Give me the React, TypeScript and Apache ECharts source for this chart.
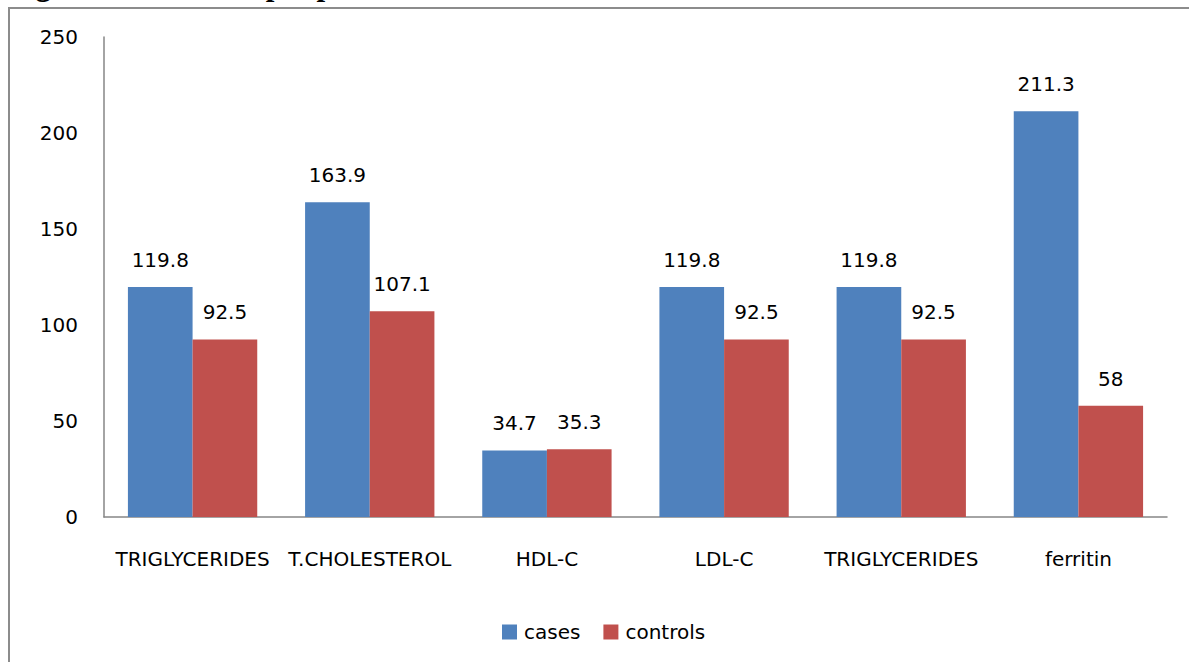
import React, { useEffect, useRef } from "react";
import * as echarts from "echarts";

const categories = ["TRIGLYCERIDES", "T.CHOLESTEROL", "HDL-C", "LDL-C", "TRIGLYCERIDES", "ferritin"];
const casesValues = [119.8, 163.9, 34.7, 119.8, 119.8, 211.3];
const controlsValues = [92.5, 107.1, 35.3, 92.5, 92.5, 58];
const yTicks = [0, 50, 100, 150, 200, 250];
const titleText = "Figure 3: ferritin, lipid profile cases and controls";

export default function App() {
  const ref = useRef<HTMLDivElement>(null);
  useEffect(() => {
    if (!ref.current) return;
    const chart = echarts.init(ref.current, null, { renderer: "svg" });
    const font = "DejaVu Sans";
    chart.setOption({
      animation: false,
      backgroundColor: "#ffffff",
      textStyle: { fontFamily: font },
      graphic: [
        {
          type: "rect",
          shape: { x: 9, y: 8, width: 1300, height: 800 },
          style: { fill: "none", stroke: "#8c8c8c", lineWidth: 2 },
          silent: true,
        },
        {
          type: "text",
          x: 8,
          y: -16,
          style: {
            text: titleText,
            font: "bold 31px 'Liberation Serif', serif",
            fill: "#000",
            verticalAlign: "middle",
            align: "left",
          },
        },
      ],
      legend: {
        left: 497,
        top: 617,
        itemWidth: 15,
        itemHeight: 15,
        itemGap: 23,
        icon: "rect",
        textStyle: { fontFamily: font, fontSize: 20, color: "#000", padding: [0, 0, 0, 2] },
        data: ["cases", "controls"],
      },
      grid: { left: 104, right: 22, top: 37, bottom: 145, containLabel: false },
      xAxis: {
        type: "category",
        data: categories,
        axisLine: { lineStyle: { color: "#868686", width: 1.5 } },
        axisTick: { show: false },
        axisLabel: { interval: 0, fontFamily: font, fontSize: 20, color: "#000", margin: 32 },
      },
      yAxis: {
        type: "value",
        min: yTicks[0],
        max: yTicks[yTicks.length - 1],
        interval: 50,
        axisLine: { show: true, lineStyle: { color: "#868686", width: 1.5 } },
        axisTick: { show: false },
        splitLine: { show: false },
        axisLabel: { fontFamily: font, fontSize: 20, color: "#000", margin: 26 },
      },
      series: [
        {
          name: "cases",
          type: "bar",
          data: casesValues,
          barGap: "0%",
          barCategoryGap: "27%",
          itemStyle: { color: "#4F81BD" },
          label: { show: true, position: "top", distance: 17, fontFamily: font, fontSize: 20, color: "#000" },
        },
        {
          name: "controls",
          type: "bar",
          data: controlsValues,
          barGap: "0%",
          barCategoryGap: "27%",
          itemStyle: { color: "#C0504D" },
          label: { show: true, position: "top", distance: 17, fontFamily: font, fontSize: 20, color: "#000" },
        },
      ],
    });
    return () => chart.dispose();
  }, []);
  return (
    <div
      ref={ref}
      style={{ position: "fixed", left: 0, top: 0, width: 1189, height: 662, background: "#fff" }}
    />
  );
}
